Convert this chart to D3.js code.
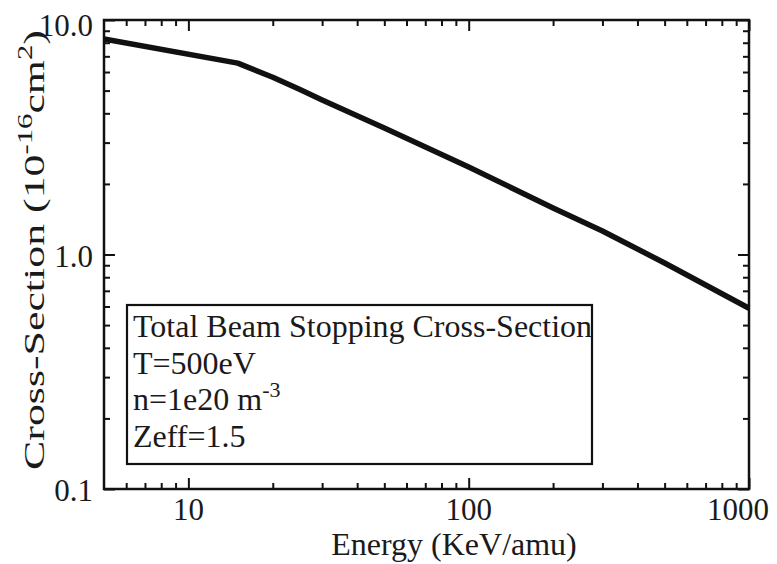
<!DOCTYPE html>
<html>
<head>
<meta charset="utf-8">
<script src="https://cdn.jsdelivr.net/npm/d3@7"></script>
<style>
  html, body { margin: 0; padding: 0; background: #fff; }
  svg { display: block; }
  text { font-family: "Liberation Serif", "Times New Roman", serif; fill: #1a1a1a; }
</style>
</head>
<body>
<svg id="chart" width="777" height="564"></svg>
<script>
// Beam energy (keV/amu) and total beam-stopping cross-section (1e-16 cm^2)
const energy = [5, 15, 20, 25, 30, 50, 100, 200, 300, 500, 1000];
const crossSection = [8.3, 6.55, 5.7, 5.05, 4.56, 3.46, 2.36, 1.58, 1.26, 0.92, 0.59];

const xMajorTicks = [10, 100, 1000];
const xTickLabels = ["10", "100", "1000"];
const yMajorTicks = [0.1, 1, 10];
const yTickLabels = ["0.1", "1.0", "10.0"];

const legendLines = [
  { text: "Total Beam Stopping Cross-Section" },
  { text: "T=500eV" },
  { text: "n=1e20 m", sup: "-3" },
  { text: "Zeff=1.5" }
];

const xDomain = [5, 1000];
const yDomain = [0.1, 10];

const margin = { left: 104, top: 20, right: 28, bottom: 75 };
const W = 777, H = 564;
const svg = d3.select("#chart");

const x = d3.scaleLog().domain(xDomain).range([margin.left, W - margin.right]);
const y = d3.scaleLog().domain(yDomain).range([H - margin.bottom, margin.top]);

// minor ticks: 2..9 within each decade
function minorTicks(domain) {
  const out = [];
  for (let p = Math.floor(Math.log10(domain[0])); p < Math.ceil(Math.log10(domain[1])); p++) {
    for (let k = 2; k <= 9; k++) {
      const v = k * Math.pow(10, p);
      if (v > domain[0] && v < domain[1]) out.push(v);
    }
  }
  return out;
}
const xMinor = minorTicks(xDomain);
const yMinor = minorTicks(yDomain);

const x0 = x.range()[0], x1 = x.range()[1];
const y0 = y.range()[0], y1 = y.range()[1];
const majorLen = 11, minorLen = 6;

// tick marks pointing into the plot on all four sides
function drawTicks(axisGen, transform) {
  const g = svg.append("g").attr("transform", transform).call(axisGen);
  g.select(".domain").remove();
  g.selectAll("line").attr("stroke", "#111").attr("stroke-width", 2);
  g.selectAll("text").remove();
  return g;
}
drawTicks(d3.axisBottom(x).tickValues(xMajorTicks).tickSize(-majorLen), `translate(0,${y0})`);
drawTicks(d3.axisBottom(x).tickValues(xMinor).tickSize(-minorLen), `translate(0,${y0})`);
drawTicks(d3.axisTop(x).tickValues(xMajorTicks).tickSize(-majorLen), `translate(0,${y1})`);
drawTicks(d3.axisTop(x).tickValues(xMinor).tickSize(-minorLen), `translate(0,${y1})`);
drawTicks(d3.axisLeft(y).tickValues(yMajorTicks).tickSize(-majorLen), `translate(${x0},0)`);
drawTicks(d3.axisLeft(y).tickValues(yMinor).tickSize(-minorLen), `translate(${x0},0)`);
drawTicks(d3.axisRight(y).tickValues(yMajorTicks).tickSize(-majorLen), `translate(${x1},0)`);
drawTicks(d3.axisRight(y).tickValues(yMinor).tickSize(-minorLen), `translate(${x1},0)`);

// tick labels (kept inside the page at the right edge)
const xl = svg.append("g");
xMajorTicks.forEach((v, i) => {
  const t = xl.append("text").attr("y", y0 + 31)
    .attr("text-anchor", "middle").attr("font-size", 31).text(xTickLabels[i]);
  const half = t.node().getComputedTextLength() / 2;
  t.attr("x", Math.min(x(v), W - half - 8));
});
const yl = svg.append("g");
yMajorTicks.forEach((v, i) => {
  yl.append("text").attr("x", x0 - 11).attr("y", Math.max(y(v) + 12, 36))
    .attr("text-anchor", "end").attr("font-size", 31).text(yTickLabels[i]);
});

// data curve
const line = d3.line().x(d => x(d[0])).y(d => y(d[1]));
svg.append("path")
  .datum(energy.map((e, i) => [e, crossSection[i]]))
  .attr("d", line)
  .attr("fill", "none")
  .attr("stroke", "#111")
  .attr("stroke-width", 5.5)
  .attr("stroke-linejoin", "round");

// frame
svg.append("rect")
  .attr("x", x0).attr("y", y1)
  .attr("width", x1 - x0).attr("height", y0 - y1)
  .attr("fill", "none").attr("stroke", "#111").attr("stroke-width", 2.5);

// axis titles
svg.append("text")
  .attr("x", 454).attr("y", 555)
  .attr("text-anchor", "middle").attr("font-size", 32)
  .text("Energy (KeV/amu)");

// vertical title, stretched along its length to span the plot height
const ytG = svg.append("g");
const yt = ytG.append("text").attr("text-anchor", "middle").attr("font-size", 30);
yt.append("tspan").text("Cross-Section (10");
yt.append("tspan").attr("dy", -12).attr("font-size", 21).text("-16");
yt.append("tspan").attr("dy", 12).text("cm");
yt.append("tspan").attr("dy", -12).attr("font-size", 21).text("2");
yt.append("tspan").attr("dy", 12).text(")");
const titleLen = yt.node().getComputedTextLength();
const stretch = 440 / titleLen;
ytG.attr("transform", `translate(44,250) rotate(-90) scale(${stretch},1)`);

// legend box
const lg = svg.append("g");
lg.append("rect")
  .attr("x", 127).attr("y", 305).attr("width", 465).attr("height", 159)
  .attr("fill", "#fff").attr("stroke", "#111").attr("stroke-width", 2.2);
legendLines.forEach((l, i) => {
  const t = lg.append("text").attr("x", 133).attr("y", 337 + i * 36.7).attr("font-size", 32);
  t.append("tspan").text(l.text);
  if (l.sup) {
    t.append("tspan").attr("dy", -13).attr("font-size", 22).text(l.sup);
  }
});
</script>
</body>
</html>
